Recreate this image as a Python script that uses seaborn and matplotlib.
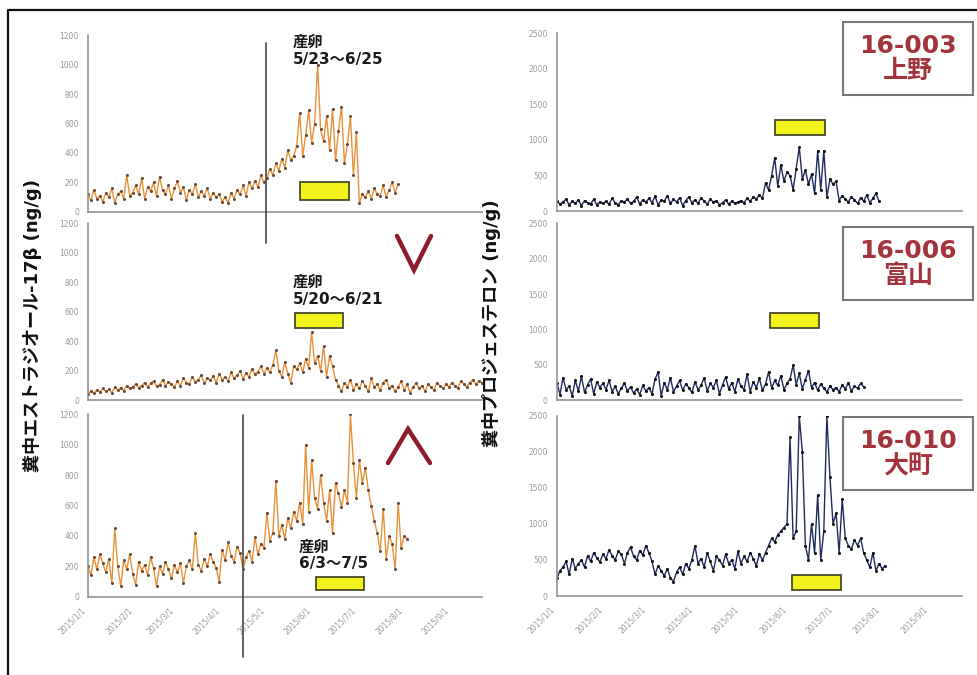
import matplotlib
matplotlib.use('Agg')
import matplotlib.pyplot as plt
import matplotlib.dates as mdates
from matplotlib.lines import Line2D
from matplotlib.patches import Rectangle
from matplotlib.ticker import FuncFormatter
import numpy as np
import pandas as pd
import seaborn as sns

# ============================================================
# fecal estradiol-17b (left) / progesterone (right), 3 animals
# values, one sample every 2 days from 2015/1/1
# ============================================================

START = "2015-01-01"
STEP = "2D"

# --- estradiol-17b (ng/g) ---
E2_003 = [120, 80, 150, 90, 110, 70, 130, 100, 160, 60, 120, 140, 90, 250, 110, 130,
          180, 120, 230, 90, 170, 140, 200, 110, 240, 150, 120, 180, 90, 160,
          210, 130, 170, 80, 150, 120, 190, 100, 140, 110, 160, 90, 130, 100, 120,
          70, 100, 60, 130, 90, 150, 120, 180, 110, 200, 160, 210, 170, 250, 200,
          230, 290, 250, 330, 280, 360, 300, 420, 350, 380, 450, 670, 380, 520, 690, 470,
          600, 1000, 560, 480, 650, 420, 700, 350, 550, 710, 330, 460, 650, 250, 540,
          60, 120, 100, 140, 90, 160, 120, 110, 180, 100, 150, 200, 130, 190]

E2_006 = [40, 60, 50, 70, 55, 80, 60, 75, 50, 90, 70, 85, 65, 100, 80, 90,
          110, 85, 100, 120, 90, 115, 130, 95, 105, 140, 100, 125, 110, 90,
          130, 100, 150, 120, 110, 160, 125, 140, 170, 115, 150, 135, 165, 120, 180,
          140, 160, 130, 190, 150, 170, 200, 145, 185, 160, 210, 175, 195, 230, 180,
          220, 190, 240, 340, 200, 160, 260, 180, 120, 230, 210, 250, 190, 280, 220, 460,
          250, 300, 200, 370, 160, 300, 230, 140, 100, 60, 120, 90, 140, 70, 110,
          80, 130, 100, 60, 150, 90, 110, 70, 120, 140, 80, 100, 60, 90, 130,
          70, 110, 50, 90, 120, 80, 100, 60, 110, 90, 70, 120, 100, 80, 110,
          90, 120, 100, 80, 130, 110, 90, 120, 140, 110, 130, 120]

E2_010 = [200, 140, 260, 180, 280, 220, 160, 250, 90, 450, 200, 70, 240, 180, 280, 150,
          80, 230, 170, 210, 140, 260, 190, 70, 200, 150, 230, 180, 120, 210,
          160, 220, 90, 200, 240, 180, 420, 210, 170, 250, 200, 280, 230, 190, 100,
          310, 240, 360, 270, 230, 330, 290, 180, 260, 300, 230, 390, 280, 350, 320,
          550, 370, 420, 760, 400, 470, 380, 520, 450, 560, 500, 620, 480, 1000, 560, 900,
          650, 580, 800, 620, 500, 700, 420, 750, 680, 590, 700, 620, 1200, 880, 650,
          900, 750, 850, 700, 600, 500, 420, 300, 580, 250, 400, 350, 180, 620, 320,
          400, 380]

# --- progesterone (ng/g) ---
P4_003 = [150, 100, 130, 170, 90, 140, 110, 160, 80, 150, 120, 100, 170, 90, 130, 110,
          140, 100, 180, 120, 90, 150, 130, 170, 110, 140, 200, 100, 160, 130,
          180, 120, 210, 90, 160, 140, 220, 110, 170, 130, 190, 80, 150, 200, 120,
          160, 110, 190, 140, 100, 170, 130, 150, 90, 120, 160, 100, 140, 110, 130,
          150, 120, 180, 140, 200, 170, 230, 180, 400, 300, 500, 750, 350, 650, 420, 550,
          500, 300, 600, 900, 450, 580, 380, 520, 250, 850, 300, 850, 200, 450, 380,
          420, 150, 220, 170, 130, 200, 160, 110, 190, 140, 230, 120, 180, 250, 140]

P4_006 = [250, 80, 320, 150, 200, 60, 280, 130, 340, 110, 220, 300, 90, 260, 180, 240,
          150, 280, 120, 200, 90, 170, 240, 130, 190, 100, 160, 80, 210, 130,
          180, 90, 300, 400, 60, 250, 150, 320, 120, 200, 280, 140, 230, 180, 110,
          260, 150, 210, 320, 130, 240, 180, 280, 90, 220, 330, 160, 250, 120, 300,
          200, 150, 370, 120, 260, 180, 310, 140, 230, 400, 170, 280, 210, 350, 150, 240,
          300, 500, 220, 380, 160, 290, 420, 180, 250, 140, 230, 170, 120, 200, 150,
          180, 120, 220, 160, 250, 130, 200, 170, 240, 190]

P4_010 = [250, 350, 400, 480, 300, 520, 380, 450, 500, 400, 560, 480, 600, 530, 470, 580,
          520, 640, 560, 500, 620, 580, 450, 600, 680, 550, 500, 630, 570, 700,
          600, 480, 300, 420, 350, 280, 380, 250, 200, 330, 400, 300, 450, 380, 500,
          700, 450, 520, 400, 600, 480, 350, 550, 500, 420, 580, 450, 500, 380, 620,
          450, 550, 480, 600, 520, 420, 580, 500, 600, 700, 800, 750, 850, 900, 950, 1000,
          2200, 800, 900, 2500, 2000, 700, 500, 1000, 600, 1400, 500, 900, 2500, 1650, 1000,
          1150, 600, 1350, 800, 700, 650, 780, 700, 800, 600, 500, 400, 600, 350, 450,
          380, 420]

IDS = ["16-003", "16-006", "16-010"]
ZOOS = ["上野", "富山", "大町"]
LAY_START = ["2015-05-23", "2015-05-20", "2015-06-03"]
LAY_END = ["2015-06-25", "2015-06-21", "2015-07-05"]
LAY_TEXT = ["産卵\n5/23～6/25", "産卵\n5/20～6/21", "産卵\n6/3～7/5"]

E2_TICKS = [0, 200, 400, 600, 800, 1000, 1200]
P4_TICKS = [0, 500, 1000, 1500, 2000, 2500]
MONTH_TICKS = pd.date_range("2015-01-01", "2015-09-01", freq="MS")
X_MIN, X_MAX = "2015-01-01", "2015-09-22"

YLABEL_L = "糞中エストラジオール-17β (ng/g)"
YLABEL_R = "糞中プロジェステロン (ng/g)"

# === style ===
sns.set_theme(style="white")
plt.rcParams['font.family'] = ['DejaVu Sans', 'Noto Sans CJK JP']

ORANGE = "#E8913A"
NAVY = "#1F2B5E"
RED = "#A3343E"
CHEV = "#8E1C2C"

W, H = 977, 675
fig = plt.figure(figsize=(W / 100, H / 100), dpi=100)
fig.patch.set_facecolor("white")

def px(x, y):
    return x / W, 1 - y / H

# axes rectangles [left, bottom, width, height] in figure fraction
POS_L = [[0.090, 0.686, 0.403, 0.262],
         [0.090, 0.407, 0.403, 0.262],
         [0.090, 0.116, 0.403, 0.270]]
POS_R = [[0.570, 0.687, 0.4145, 0.264],
         [0.570, 0.407, 0.4145, 0.262],
         [0.570, 0.117, 0.4145, 0.267]]

# yellow bar heights (data units) per panel
BAR_L = [(80, 200), (490, 590), (45, 130)]
BAR_R = [(1070, 1280), (1020, 1230), (85, 290)]
# 産卵 text anchor (axes fraction, top-left)
TXT_L = [(0.52, 1.0), (0.52, 0.71), (0.535, 0.315)]

date_fmt = FuncFormatter(lambda v, p: "{0}/{1}/{2}".format(*[getattr(mdates.num2date(v), a) for a in ("year", "month", "day")]))


def style_axis(ax, ticks, show_dates):
    for s in ["top", "right"]:
        ax.spines[s].set_visible(False)
    for s in ["left", "bottom"]:
        ax.spines[s].set_color("#8a8a8a")
        ax.spines[s].set_linewidth(1.1)
    ax.set_xlim(pd.Timestamp(X_MIN), pd.Timestamp(X_MAX))
    ax.set_ylim(ticks[0], ticks[-1])
    ax.set_yticks(ticks)
    ax.set_xticks(MONTH_TICKS)
    ax.xaxis.set_major_formatter(date_fmt)
    ax.tick_params(axis="both", direction="out", length=3, width=0.8,
                   colors="#8a8a8a", labelsize=5.5, labelcolor="#9a9a9a")
    if show_dates:
        plt.setp(ax.get_xticklabels(), rotation=45, ha="right")
    else:
        ax.set_xticklabels([])
    ax.set_xlabel("")
    ax.set_ylabel("")
    ax.set_facecolor("none")


def draw(ax, vals, color, mcolor):
    d = pd.DataFrame({"date": pd.date_range(START, periods=len(vals), freq=STEP),
                      "val": vals})
    sns.lineplot(data=d, x="date", y="val", ax=ax, color=color, lw=1.0,
                 marker="o", markersize=2.2, markeredgewidth=0,
                 markerfacecolor=mcolor)


def lay_bar(ax, i, yr):
    s = mdates.date2num(pd.Timestamp(LAY_START[i]))
    e = mdates.date2num(pd.Timestamp(LAY_END[i]))
    ax.add_patch(Rectangle((s, yr[0]), e - s, yr[1] - yr[0], facecolor="#F4F21C",
                           edgecolor="#4a4a2a", lw=1.3, zorder=5))


E2 = [E2_003, E2_006, E2_010]
P4 = [P4_003, P4_006, P4_010]

for i in range(3):
    axl = fig.add_axes(POS_L[i])
    draw(axl, E2[i], ORANGE, "#6a4a35")
    style_axis(axl, E2_TICKS, i == 2)
    lay_bar(axl, i, BAR_L[i])
    axl.text(TXT_L[i][0], TXT_L[i][1], LAY_TEXT[i], transform=axl.transAxes,
             ha="left", va="top", fontsize=11, weight="bold", color="#1a1a1a",
             linespacing=1.15, zorder=6)

    axr = fig.add_axes(POS_R[i])
    draw(axr, P4[i], NAVY, "#111111")
    style_axis(axr, P4_TICKS, i == 2)
    lay_bar(axr, i, BAR_R[i])

# y labels
fig.text(0.033, 0.518, YLABEL_L, rotation=90, ha="center", va="center",
         fontsize=13, weight="bold", color="#111111")
fig.text(0.503, 0.521, YLABEL_R, rotation=90, ha="center", va="center",
         fontsize=13, weight="bold", color="#111111")

# animal boxes
BOX_Y = [22, 227, 417]
for i in range(3):
    x0, y1 = px(843, BOX_Y[i] + 73)
    fig.patches.append(Rectangle((x0, y1), 130 / W, 73 / H, transform=fig.transFigure,
                                 facecolor="white", edgecolor="#777777", lw=1.5,
                                 zorder=10, figure=fig))
    cx, cy = px(908, BOX_Y[i] + 36.5)
    fig.text(cx, cy, IDS[i] + "\n" + ZOOS[i], ha="center", va="center",
             fontsize=18, weight="bold", color=RED, linespacing=1.1, zorder=11)

# chevrons
def poly(points, **kw):
    xs = [px(x, y)[0] for x, y in points]
    ys = [px(x, y)[1] for x, y in points]
    fig.add_artist(Line2D(xs, ys, transform=fig.transFigure, **kw))

poly([(397, 236), (414, 270), (431, 236)], color=CHEV, lw=3.2, solid_joinstyle="miter")
poly([(388, 463), (408, 429), (430, 463)], color=CHEV, lw=3.2, solid_joinstyle="miter")

# divider lines and frame
poly([(266, 43), (266, 243)], color="#555555", lw=1.3)
poly([(243, 415), (243, 657)], color="#555555", lw=1.3)
poly([(8, 675), (8, 10), (977, 10)], color="#111111", lw=1.6)

fig.savefig("out.png", dpi=100, facecolor="white")
